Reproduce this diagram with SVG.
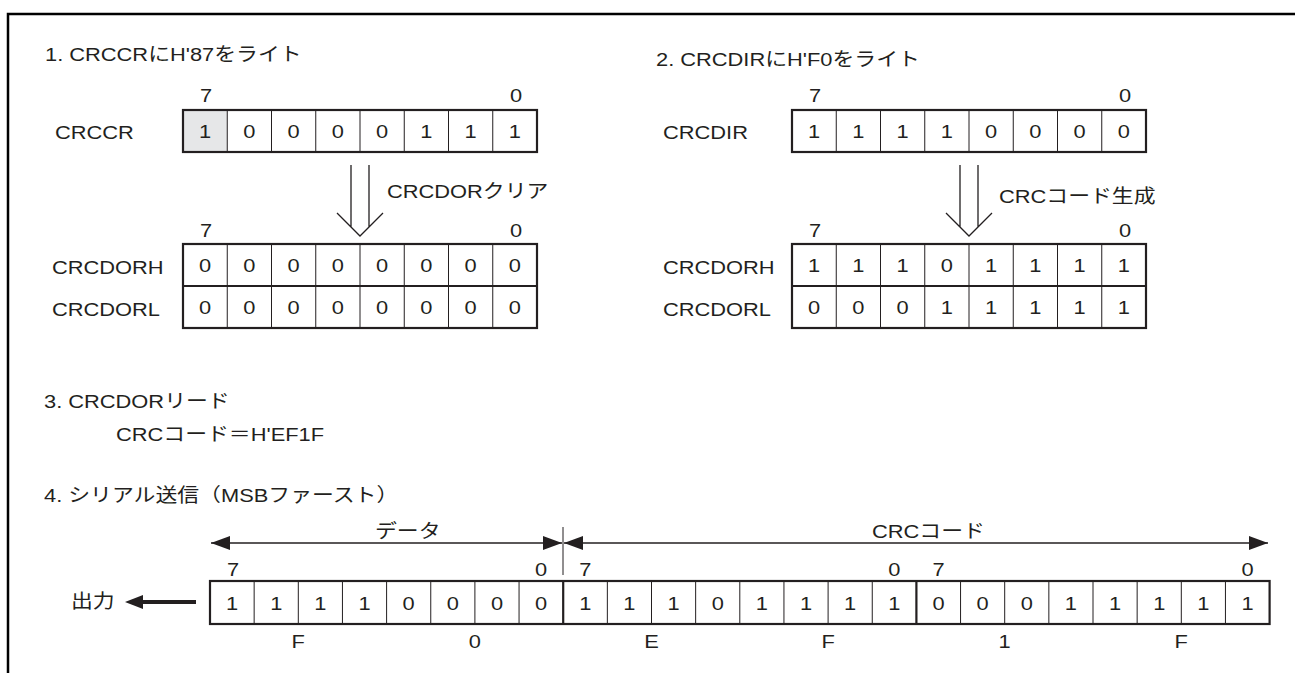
<svg xmlns="http://www.w3.org/2000/svg" width="1295" height="673" viewBox="0 0 1295 673">
<defs>
<style>
.t{font-family:'Liberation Sans',Arial,'Noto Sans CJK JP',sans-serif;font-size:19px;fill:#231f20}
.c{text-anchor:middle}
.box{fill:none;stroke:#231f20;stroke-width:2.2}
.dv{fill:none;stroke:#231f20;stroke-width:1}
.ln{fill:none;stroke:#231f20;stroke-width:1.3}
</style>
<marker id="ah" viewBox="0 0 19 14" markerWidth="19" markerHeight="14" refX="19" refY="7" orient="auto-start-reverse" markerUnits="userSpaceOnUse"><path d="M0,0 L19,7 L0,14 Z" fill="#231f20"/></marker>
</defs>
<rect width="1295" height="673" fill="#fff"/>
<path d="M8,673V14H1295" fill="none" stroke="#000" stroke-width="2.5"/>

<g id="step1">
<g transform="scale(1.15 1)"><text class="t" x="39.13" y="61">1. CRCCRにH'87をライト</text></g>
</g>

<g id="crccr">
<rect x="183" y="110" width="44.25" height="42" fill="#e6e7e8"/>
<path class="dv" d="M227.25,110V152M271.5,110V152M315.75,110V152M360,110V152M404.25,110V152M448.5,110V152M492.75,110V152"/>
<rect class="box" x="183" y="110" width="354" height="42"/>
<g transform="scale(1.15 1)">
<text class="t c" x="179.13" y="102">7</text>
<text class="t c" x="448.70" y="102">0</text>
<text class="t" x="47.83" y="139">CRCCR</text>
<text class="t c" x="178.37 216.85 255.33 293.80 332.28 370.76 409.24 447.72" y="138.5">10000111</text>
</g>
</g>

<g id="crcdor-clear">
<path class="dv" d="M227.25,244V328M271.5,244V328M315.75,244V328M360,244V328M404.25,244V328M448.5,244V328M492.75,244V328"/>
<path class="box" d="M183,286H537"/>
<rect class="box" x="183" y="244" width="354" height="84"/>
<g transform="scale(1.15 1)">
<text class="t c" x="179.13" y="237">7</text>
<text class="t c" x="448.70" y="237">0</text>
<text class="t" x="45.22" y="274.5">CRCDORH</text>
<text class="t" x="45.22" y="316.5">CRCDORL</text>
<text class="t c" x="178.37 216.85 255.33 293.80 332.28 370.76 409.24 447.72" y="272.5">00000000</text>
<text class="t c" x="178.37 216.85 255.33 293.80 332.28 370.76 409.24 447.72" y="314.5">00000000</text>
</g>
</g>

<g id="step2">
<g transform="scale(1.15 1)"><text class="t" x="570.43" y="66">2. CRCDIRにH'F0をライト</text></g>
</g>

<g id="crcdir">
<path class="dv" d="M836.25,110V152M880.5,110V152M924.75,110V152M969,110V152M1013.25,110V152M1057.5,110V152M1101.75,110V152"/>
<rect class="box" x="792" y="110" width="354" height="42"/>
<g transform="scale(1.15 1)">
<text class="t c" x="708.70" y="102">7</text>
<text class="t c" x="978.26" y="102">0</text>
<text class="t" x="576.52" y="139">CRCDIR</text>
<text class="t c" x="707.93 746.41 784.89 823.37 861.85 900.33 938.80 977.28" y="138.5">11110000</text>
</g>
</g>

<g id="crcdor-gen">
<path class="dv" d="M836.25,244V328M880.5,244V328M924.75,244V328M969,244V328M1013.25,244V328M1057.5,244V328M1101.75,244V328"/>
<path class="box" d="M792,286H1146"/>
<rect class="box" x="792" y="244" width="354" height="84"/>
<g transform="scale(1.15 1)">
<text class="t c" x="708.70" y="237">7</text>
<text class="t c" x="978.26" y="237">0</text>
<text class="t" x="576.52" y="274.5">CRCDORH</text>
<text class="t" x="576.52" y="316.5">CRCDORL</text>
<text class="t c" x="707.93 746.41 784.89 823.37 861.85 900.33 938.80 977.28" y="272.5">11101111</text>
<text class="t c" x="707.93 746.41 784.89 823.37 861.85 900.33 938.80 977.28" y="314.5">00011111</text>
</g>
</g>

<g id="step3">
<g transform="scale(1.15 1)">
<text class="t" x="38.26" y="408">3. CRCDORリード</text>
<text class="t" x="100.87" y="441">CRCコード＝H'EF1F</text>
</g>
</g>

<g id="step4">
<g transform="scale(1.15 1)"><text class="t" x="38.26" y="502">4. シリアル送信（MSBファースト）</text></g>
</g>

<g id="serial">
<path class="dv" d="M254.15,581V624M298.3,581V624M342.45,581V624M386.6,581V624M430.75,581V624M474.9,581V624M519.05,581V624M607.35,581V624M651.5,581V624M695.65,581V624M739.8,581V624M783.95,581V624M828.1,581V624M872.25,581V624M960.55,581V624M1004.7,581V624M1048.85,581V624M1093,581V624M1137.15,581V624M1181.3,581V624M1225.45,581V624"/>
<path class="box" d="M563.2,581V624M916.4,581V624"/>
<rect class="box" x="210" y="581" width="1059.6" height="43"/>
<g transform="scale(1.15 1)">
<text class="t c" x="202.61 470.43 508.96 777.65 816.09 1084.78" y="576">707070</text>
<text class="t c" x="201.81 240.20 278.59 316.98 355.37 393.77 432.16 470.55 508.94 547.33 585.72 624.11 662.50 700.90 739.29 777.68 816.07 854.46 892.85 931.24 969.63 1008.03 1046.42 1084.81" y="610">111100001110111100011111</text>
<text class="t c" x="259.39 412.96 566.52 720.09 873.65 1027.22" y="648">F0EF1F</text>
<text class="t" x="326.09" y="538">データ</text>
<text class="t" x="758.26" y="538">CRCコード</text>
<text class="t" x="61.74" y="608">出力</text>
</g>
</g>

<g id="connectors">
<path class="ln" d="M351,165V227M369,165V227M337,213L360,236L383,213"/>
<path class="ln" d="M960,165V227M978,165V227M946,213L969,236L992,213"/>
<g transform="scale(1.15 1)">
<text class="t" x="336.52" y="198">CRCDORクリア</text>
<text class="t" x="868.70" y="203">CRCコード生成</text>
</g>
<path class="ln" d="M211,543H562" marker-start="url(#ah)" marker-end="url(#ah)"/>
<path class="ln" d="M564,543H1268" marker-start="url(#ah)" marker-end="url(#ah)"/>
<path class="dv" d="M563,527V575"/>
<path d="M196,602H140" fill="none" stroke="#231f20" stroke-width="4"/>
<polygon points="125,602 143,595 143,609" fill="#231f20"/>
</g>
</svg>
